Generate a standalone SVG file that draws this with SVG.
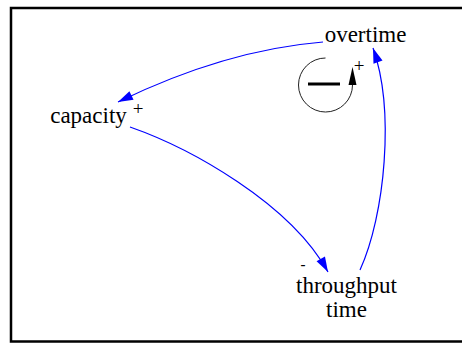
<svg xmlns="http://www.w3.org/2000/svg" width="462" height="343" viewBox="0 0 462 343">
  <style>
    .lbl { font-family: "Liberation Serif", "Times New Roman", serif; font-size: 23px; fill: #000; text-anchor: middle; }
    .pol { font-family: "Liberation Serif", "Times New Roman", serif; font-size: 19px; fill: #000; text-anchor: middle; }
    .neg { font-family: "Liberation Serif", "Times New Roman", serif; font-size: 15px; font-weight: bold; fill: #000; text-anchor: middle; }
    .link { fill: none; stroke: #0000ff; stroke-width: 1.2; }
  </style>
  <defs>
    <marker id="ah" markerUnits="userSpaceOnUse" markerWidth="20" markerHeight="14" viewBox="-16 -7 17 14" refX="0" refY="0" orient="auto">
      <path d="M0,0 L-15,-4.8 L-15,4.8 Z" fill="#0000ff"/>
    </marker>
  </defs>
  <rect x="0" y="0" width="462" height="343" fill="#ffffff"/>
  <rect x="11" y="8" width="460" height="333.5" fill="#ffffff" stroke="#000" stroke-width="2.5"/>

  <g id="connectors">
    <path class="link" d="M323,42 Q225,50 118,102" marker-end="url(#ah)"/>
    <path class="link" d="M130,127 C190,148 290,203 328,272" marker-end="url(#ah)"/>
    <path class="link" d="M360,270 C385,215 395,110 373,48" marker-end="url(#ah)"/>
    <text class="pol" x="138" y="114.5">+</text>
    <text class="neg" x="303" y="269">-</text>
    <text class="pol" x="359" y="71.5">+</text>
  </g>

  <g id="loop">
    <path d="M325.5,58 A27,27 0 1 0 352.5,85" fill="none" stroke="#222" stroke-width="1"/>
    <polygon points="352.5,67 348.5,85 356.5,85" fill="#000"/>
    <line x1="308" y1="84" x2="340" y2="84" stroke="#000" stroke-width="3"/>
  </g>

  <g id="node-overtime">
    <text class="lbl" x="365.5" y="41.5">overtime</text>
  </g>
  <g id="node-capacity">
    <text class="lbl" x="88.5" y="123">capacity</text>
  </g>
  <g id="node-throughput-time">
    <text class="lbl" x="346.5" y="292.5">throughput</text>
    <text class="lbl" x="346.5" y="317">time</text>
  </g>
</svg>
